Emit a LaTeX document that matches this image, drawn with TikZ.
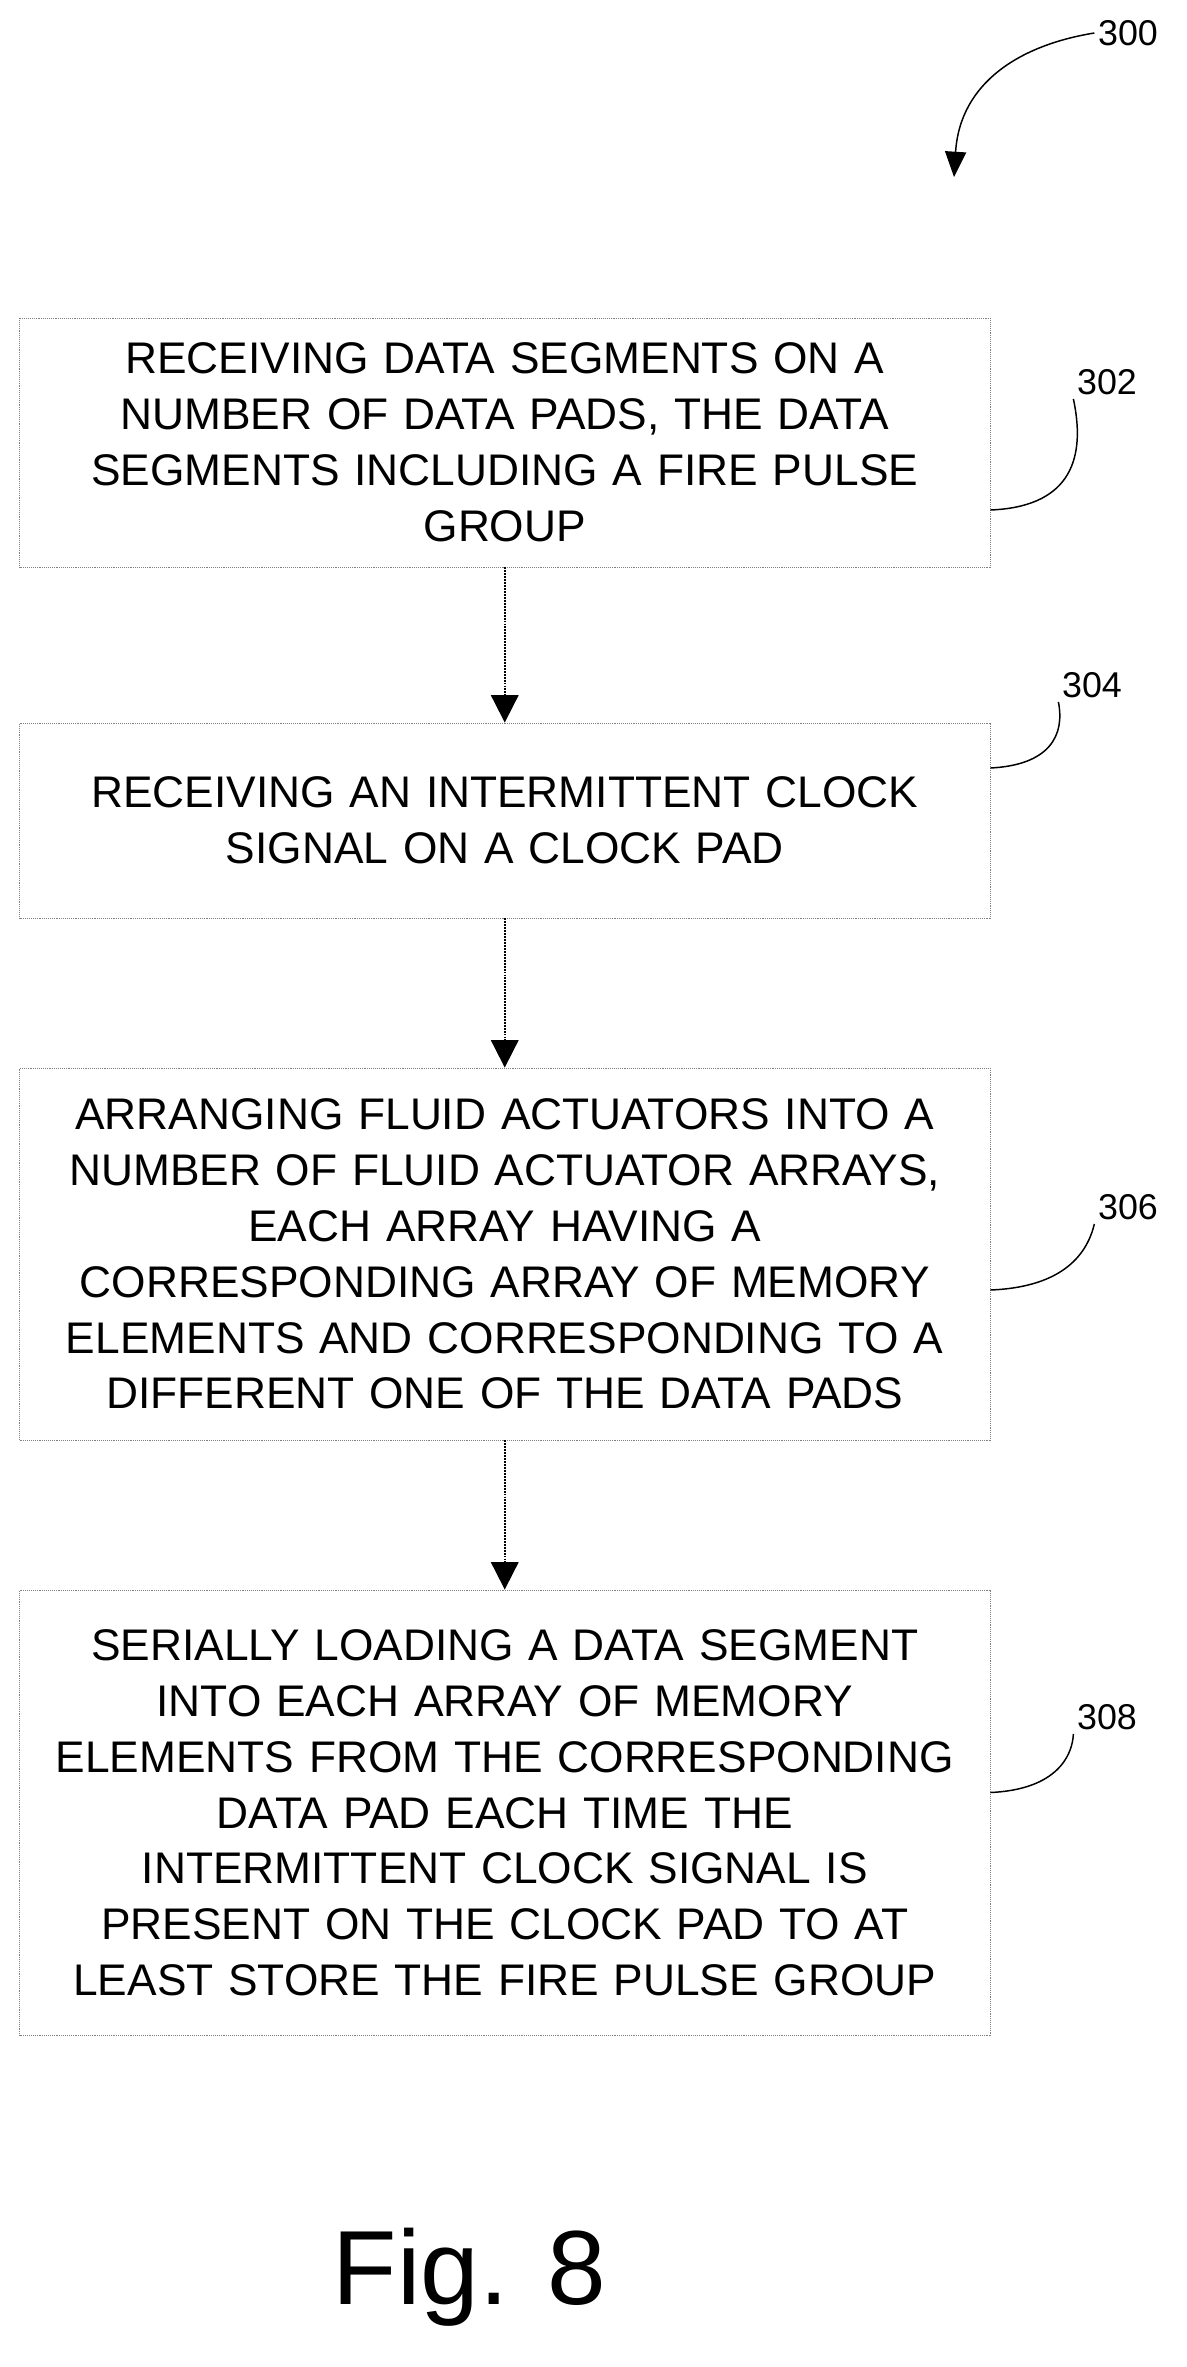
\documentclass[tikz,border=0pt]{standalone}
\usepackage{fontspec}
\setmainfont{Liberation Sans}
\usetikzlibrary{arrows.meta}
\begin{document}
\begin{tikzpicture}[x=0.05cm,y=-0.05cm]
 \tikzset{stepbox/.style={draw=gray,densely dotted,line width=0.8pt,minimum width=32.35cm,text width=32cm,align=center,
    font=\fontsize{42}{53}\selectfont,inner sep=0pt},
   flow/.style={densely dotted,line width=1.8pt,-{Triangle[width=26pt,length=26pt]}},
   lead/.style={line width=1.4pt},
   ref/.style={font=\fontsize{34}{40}\selectfont}}
    \useasboundingbox (0,0) rectangle (791,1578);
    % Steps
    \node[stepbox,minimum height=8.3cm] (s302) at (336.5,295) {RECEIVING DATA SEGMENTS ON A\\ NUMBER OF DATA PADS, THE DATA\\ SEGMENTS INCLUDING A FIRE PULSE\\ GROUP};
    \node[stepbox,minimum height=6.5cm] (s304) at (336.5,547) {RECEIVING AN INTERMITTENT CLOCK\\ SIGNAL ON A CLOCK PAD};
    \node[stepbox,minimum height=12.4cm] (s306) at (336.5,836) {ARRANGING FLUID ACTUATORS INTO A\\ NUMBER OF FLUID ACTUATOR ARRAYS,\\ EACH ARRAY HAVING A\\ CORRESPONDING ARRAY OF MEMORY\\ ELEMENTS AND CORRESPONDING TO A\\ DIFFERENT ONE OF THE DATA PADS};
    \node[stepbox,minimum height=14.85cm] (s308) at (336.5,1208.5) {SERIALLY LOADING A DATA SEGMENT\\ INTO EACH ARRAY OF MEMORY\\ ELEMENTS FROM THE CORRESPONDING\\ DATA PAD EACH TIME THE\\ INTERMITTENT CLOCK SIGNAL IS\\ PRESENT ON THE CLOCK PAD TO AT\\ LEAST STORE THE FIRE PULSE GROUP};
    \draw[flow] (s302) -- (s304);
    \draw[flow] (s304) -- (s306);
    \draw[flow] (s306) -- (s308);
    % Reference numerals
    \node[ref] (n300) at (752,22) {300};
    \node[ref] (n302) at (738,255) {302};
    \node[ref] (n304) at (728,457) {304};
    \node[ref] (n306) at (752,805) {306};
    \node[ref] (n308) at (738,1145) {308};
    \coordinate (t300) at (636,118);
    \draw[lead,-{Triangle[width=20pt,length=24pt]}] (n300.west) .. controls (680,30) and (640,55) .. (t300);
    \draw[lead] (s302.east |- 0,340) .. controls (710,338) and (725,310) .. (n302.south west);
    \draw[lead] (s304.east |- 0,512) .. controls (700,510) and (710,490) .. (n304.south west);
    \draw[lead] (s306.east |- 0,860) .. controls (710,858) and (725,835) .. (n306.south west);
    \draw[lead] (s308.east |- 0,1195) .. controls (705,1193) and (715,1170) .. (n308.south west);
    \node[font=\fontsize{100}{110}\selectfont] (fig) at (313,1518) {Fig. 8};
\end{tikzpicture}
\end{document}
